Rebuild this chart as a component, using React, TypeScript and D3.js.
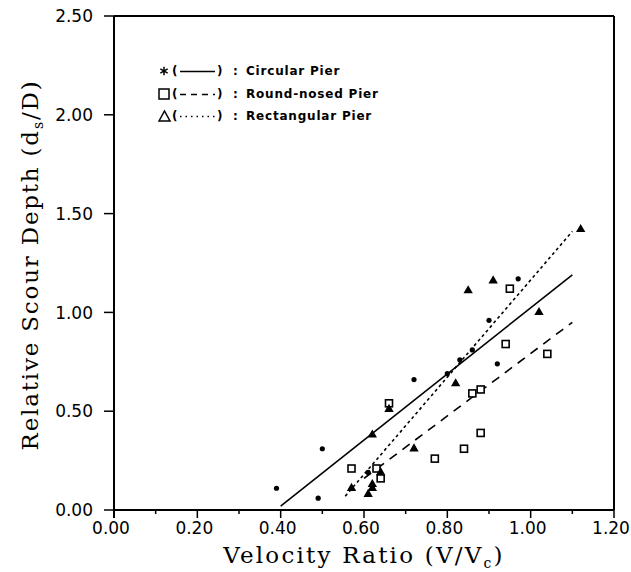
import React from "react";
import * as d3 from "d3";

const xTicks = [0, 0.2, 0.4, 0.6, 0.8, 1.0, 1.2];
const xMinorTicks = [0.1, 0.3, 0.5, 0.7, 0.9, 1.1];
const yTicks = [0, 0.5, 1.0, 1.5, 2.0, 2.5];

const circularX = [0.39, 0.49, 0.5, 0.61, 0.72, 0.8, 0.83, 0.86, 0.86, 0.9, 0.92, 0.97];
const circularY = [0.11, 0.06, 0.31, 0.19, 0.66, 0.69, 0.76, 0.81, 0.59, 0.96, 0.74, 1.17];

const roundX = [0.57, 0.63, 0.64, 0.66, 0.77, 0.84, 0.86, 0.88, 0.88, 0.94, 0.95, 1.04];
const roundY = [0.21, 0.21, 0.16, 0.54, 0.26, 0.31, 0.59, 0.61, 0.39, 0.84, 1.12, 0.79];

const rectX = [0.57, 0.61, 0.62, 0.62, 0.64, 0.62, 0.66, 0.72, 0.82, 0.85, 0.91, 1.02, 1.12];
const rectY = [0.11, 0.08, 0.11, 0.13, 0.19, 0.38, 0.51, 0.31, 0.64, 1.11, 1.16, 1.0, 1.42];

const circularFitX = [0.4, 1.1];
const circularFitY = [0.02, 1.19];
const roundFitX = [0.6, 1.1];
const roundFitY = [0.16, 0.95];
const rectFitX = [0.555, 1.1];
const rectFitY = [0.07, 1.41];

const legendLabels = ["Circular Pier", "Round-nosed Pier", "Rectangular Pier"];

export default function App() {
  const W = 631;
  const H = 572;
  const x = d3.scaleLinear().domain([0, 1.2]).range([114, 614]);
  const y = d3.scaleLinear().domain([0, 2.5]).range([510, 16]);
  const line = d3
    .line<[number, number]>()
    .x((d) => x(d[0]))
    .y((d) => y(d[1]));
  const pts = (xs: number[], ys: number[]) => xs.map((v, i) => [v, ys[i]] as [number, number]);
  const tri = d3.symbol().type(d3.symbolTriangle).size(38);
  const star = d3.symbol().type(d3.symbolAsterisk).size(50);
  const tickFont = "'DejaVu Sans', sans-serif";
  const titleFont = "'DejaVu Serif', serif";
  const legFont = "'DejaVu Sans', sans-serif";
  const legRows = [71, 94, 116];

  return (
    <svg width={W} height={H} style={{ position: "absolute", left: 0, top: 0, background: "#fff" }}>
      <rect width={W} height={H} fill="#fff" />
      {/* frame */}
      <line x1={x(0)} x2={x(1.2)} y1={y(2.5)} y2={y(2.5)} stroke="#000" strokeWidth={2} />
      <line x1={x(1.2)} x2={x(1.2)} y1={y(2.5)} y2={y(0)} stroke="#000" strokeWidth={2} />
      <line x1={x(0)} x2={x(0)} y1={y(2.5)} y2={y(0) + 8} stroke="#000" strokeWidth={2} />
      <line x1={x(0)} x2={x(1.2)} y1={y(0)} y2={y(0)} stroke="#000" strokeWidth={2} />
      {/* x ticks */}
      {xTicks.map((t) => (
        <g key={"xt" + t}>
          <line x1={x(t)} x2={x(t)} y1={y(0)} y2={y(0) + 8} stroke="#000" strokeWidth={1.5} />
          <text x={x(t) - 3} y={y(0) + 24} textAnchor="middle" fontFamily={tickFont} fontSize={17}>
            {t.toFixed(2)}
          </text>
        </g>
      ))}
      {xMinorTicks.map((t) => (
        <line key={"xm" + t} x1={x(t)} x2={x(t)} y1={y(0)} y2={y(0) + 4} stroke="#000" strokeWidth={1.5} />
      ))}
      {/* y ticks */}
      {yTicks.map((t) => (
        <g key={"yt" + t}>
          <line x1={x(0) - 10} x2={x(0)} y1={y(t)} y2={y(t)} stroke="#000" strokeWidth={1.5} />
          <text x={x(0) - 21} y={y(t)} dy="0.36em" textAnchor="end" fontFamily={tickFont} fontSize={17}>
            {t.toFixed(2)}
          </text>
        </g>
      ))}
      {/* titles */}
      <text x={364} y={563} textAnchor="middle" fontFamily={titleFont} fontSize={23} letterSpacing={2.2}>
        Velocity Ratio (V/V<tspan fontSize={14} dy={5}>c</tspan>
        <tspan dy={-5}>)</tspan>
      </text>
      <text
        transform={`translate(38, ${265}) rotate(-90)`}
        textAnchor="middle"
        fontFamily={titleFont}
        fontSize={23}
        letterSpacing={1.8}
      >
        Relative Scour Depth (d<tspan fontSize={14} dy={5}>s</tspan>
        <tspan dy={-5}>/D)</tspan>
      </text>
      {/* fit lines */}
      <path d={line(pts(circularFitX, circularFitY)) || ""} fill="none" stroke="#000" strokeWidth={1.6} />
      <path d={line(pts(roundFitX, roundFitY)) || ""} fill="none" stroke="#000" strokeWidth={1.6} strokeDasharray="9,7" />
      <path d={line(pts(rectFitX, rectFitY)) || ""} fill="none" stroke="#000" strokeWidth={1.6} strokeDasharray="3,3" />
      {/* points */}
      {pts(circularX, circularY).map((p, i) => (
        <circle key={"c" + i} cx={x(p[0])} cy={y(p[1])} r={2.6} fill="#000" />
      ))}
      {pts(roundX, roundY).map((p, i) => (
        <rect key={"r" + i} x={x(p[0]) - 3.5} y={y(p[1]) - 3.5} width={7} height={7} fill="#fff" stroke="#000" strokeWidth={1.6} />
      ))}
      {pts(rectX, rectY).map((p, i) => (
        <path key={"t" + i} d={tri() || ""} transform={`translate(${x(p[0])},${y(p[1])})`} fill="#000" />
      ))}
      {/* legend */}
      <g>
        <path d={star() || ""} transform={`translate(164,${legRows[0]})`} stroke="#000" strokeWidth={1.5} fill="none" />
        <rect x={159} y={legRows[1] - 5} width={10} height={10} fill="#fff" stroke="#000" strokeWidth={1.5} />
        <path d={`M159,${legRows[2] + 5}L164.5,${legRows[2] - 5}L170,${legRows[2] + 5}Z`} fill="none" stroke="#000" strokeWidth={1.5} />
        {legRows.map((ry, i) => (
          <g key={"lg" + i}>
            <text x={172} y={ry} dy="0.36em" fontFamily={legFont} fontWeight="bold" fontSize={12}>(</text>
            <text x={217} y={ry} dy="0.36em" fontFamily={legFont} fontWeight="bold" fontSize={12}>)</text>
            <text x={233} y={ry} dy="0.36em" fontFamily={legFont} fontWeight="bold" fontSize={12}>:</text>
            <text x={246} y={ry} dy="0.36em" fontFamily={legFont} fontWeight="bold" fontSize={12} letterSpacing={0.8}>
              {legendLabels[i]}
            </text>
          </g>
        ))}
        <line x1={180} x2={215} y1={legRows[0] + 0.5} y2={legRows[0] + 0.5} stroke="#000" strokeWidth={1.3} />
        <line x1={180} x2={215} y1={legRows[1] + 0.5} y2={legRows[1] + 0.5} stroke="#000" strokeWidth={1.3} strokeDasharray="6,5" />
        <line x1={180} x2={215} y1={legRows[2] + 0.5} y2={legRows[2] + 0.5} stroke="#000" strokeWidth={1.3} strokeDasharray="1.5,4" />
      </g>
    </svg>
  );
}
